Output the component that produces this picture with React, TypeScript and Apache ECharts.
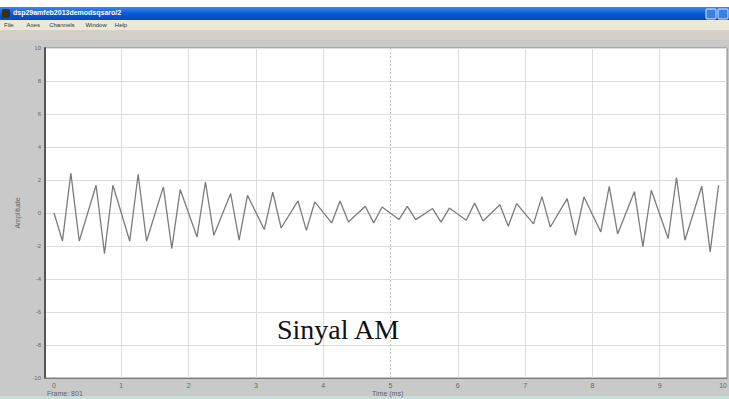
import React, { useEffect, useRef } from "react";
import * as echarts from "echarts";

const timeMs = [
  0, 0.125, 0.25, 0.375, 0.625, 0.75, 0.875, 1.125, 1.25, 1.375,
  1.625, 1.75, 1.875, 2.125, 2.25, 2.375, 2.625, 2.75, 2.875, 3.125,
  3.25, 3.375, 3.625, 3.75, 3.875, 4.125, 4.25, 4.375, 4.625, 4.75,
  4.875, 5.125, 5.25, 5.375, 5.625, 5.75, 5.875, 6.125, 6.25, 6.375,
  6.625, 6.75, 6.875, 7.125, 7.25, 7.375, 7.625, 7.75, 7.875, 8.125,
  8.25, 8.375, 8.625, 8.75, 8.875, 9.125, 9.25, 9.375, 9.625, 9.75,
  9.875,
];
const amplitude = [
  0, -1.7, 2.42, -1.7, 1.68, -2.46, 1.68, -1.7, 2.35, -1.7,
  1.58, -2.16, 1.42, -1.45, 1.88, -1.35, 1.18, -1.65, 1.07, -1.0,
  1.27, -0.91, 0.73, -1.05, 0.67, -0.6, 0.73, -0.55, 0.41, -0.6,
  0.36, -0.4, 0.4, -0.4, 0.27, -0.55, 0.3, -0.44, 0.6, -0.48,
  0.5, -0.8, 0.57, -0.66, 0.99, -0.85, 0.87, -1.35, 0.97, -1.15,
  1.62, -1.27, 1.3, -2.04, 1.38, -1.55, 2.15, -1.65, 1.62, -2.36,
  1.68,
];
const xTicks = [0, 1, 2, 3, 4, 5, 6, 7, 8, 9, 10];
const xGridLines = [1, 2, 3, 4, 6, 7, 8, 9];
const xCenterLine = [5];
const windowTitle = "dsp29amfeb2013demodsqsaro/2";
const menuItems = ["File", "Axes", "Channels", "Window", "Help"];
const frameText = "Frame: 801";
const xName = "Time (ms)";
const yName = "Amplitude";
const annotation = "Sinyal AM";

export default function App() {
  const ref = useRef<HTMLDivElement>(null);
  useEffect(() => {
    if (!ref.current) return;
    const chart = echarts.init(ref.current, null, { renderer: "svg" });
    const data = timeMs.map((t, i) => [t, amplitude[i]]);
    let mx = 4;
    const menuTexts = menuItems.map((m) => {
      const el = {
        type: "text",
        x: mx,
        y: 22,
        style: { text: m, fontSize: 6, fill: "#333", fontFamily: "Liberation Sans" },
        silent: true,
      };
      mx += m.length * 3.4 + 9;
      return el;
    });
    chart.setOption({
      animation: false,
      backgroundColor: "#c9c9c9",
      grid: {
        left: 45,
        top: 48,
        right: 2,
        bottom: 21,
        containLabel: false,
        outerBoundsMode: "none",
        show: true,
        backgroundColor: "#ffffff",
        borderColor: "#8a8a8a",
        borderWidth: 1,
      },
      xAxis: {
        type: "value",
        min: -0.134,
        max: 10,
        axisLine: { show: true, onZero: false, lineStyle: { color: "#7a7a7a", width: 1 } },
        axisTick: { show: false },
        splitLine: { show: false },
        axisLabel: {
          customValues: xTicks,
          alignMaxLabel: "right",
          fontSize: 7,
          color: "#666",
          margin: 4,
          fontFamily: "Liberation Sans",
        },
      },
      yAxis: {
        type: "value",
        min: -10,
        max: 10,
        interval: 2,
        name: yName,
        nameLocation: "middle",
        nameGap: 19,
        nameRotate: 90,
        nameTextStyle: { fontSize: 7, color: "#666", fontFamily: "Liberation Sans" },
        axisLine: { show: true, onZero: false, lineStyle: { color: "#555", width: 2 } },
        axisTick: { show: false },
        splitLine: { show: true, lineStyle: { color: "#dedede", width: 1 } },
        axisLabel: { fontSize: 6, color: "#666", margin: 4, fontFamily: "Liberation Sans" },
      },
      series: [
        {
          type: "line",
          data,
          showSymbol: false,
          symbol: "none",
          lineStyle: { color: "#7c7c7c", width: 1.3 },
          z: 5,
          markLine: {
            silent: true,
            symbol: "none",
            label: { show: false },
            data: [
              ...xGridLines.map((v) => ({
                xAxis: v,
                lineStyle: { color: "#dedede", width: 1, type: "solid" },
              })),
              ...xCenterLine.map((v) => ({
                xAxis: v,
                lineStyle: { color: "#c4c4c4", width: 1, type: [2, 2] },
              })),
            ],
          },
        },
      ],
      graphic: [
        { type: "rect", shape: { x: 0, y: 0, width: 729, height: 7 }, style: { fill: "#ffffff" }, silent: true },
        {
          type: "rect",
          shape: { x: 0, y: 7, width: 729, height: 13 },
          style: {
            fill: new echarts.graphic.LinearGradient(0, 0, 0, 1, [
              { offset: 0, color: "#3a88f2" },
              { offset: 0.5, color: "#0a5ad8" },
              { offset: 1, color: "#0848b8" },
            ]),
          },
          silent: true,
        },
        { type: "rect", shape: { x: 2, y: 9, width: 8, height: 9, r: 2 }, style: { fill: "#3a3020" }, silent: true },
        {
          type: "text",
          x: 13,
          y: 9,
          style: { text: windowTitle, fontSize: 7, fontWeight: "bold", fill: "#ffffff", fontFamily: "Liberation Sans" },
          silent: true,
        },
        { type: "rect", shape: { x: 706, y: 9, width: 10, height: 10, r: 1 }, style: { fill: "#3c7ee8", stroke: "#dfe8ff", lineWidth: 1 }, silent: true },
        { type: "rect", shape: { x: 718, y: 9, width: 10, height: 10, r: 1 }, style: { fill: "#3c7ee8", stroke: "#dfe8ff", lineWidth: 1 }, silent: true },
        { type: "rect", shape: { x: 0, y: 20, width: 729, height: 10 }, style: { fill: "#ece9d8" }, silent: true },
        ...menuTexts,
        { type: "rect", shape: { x: 0, y: 30, width: 729, height: 10 }, style: { fill: "#d4d0c8" }, silent: true },
        { type: "rect", shape: { x: 0, y: 396, width: 729, height: 3 }, style: { fill: "#c4e0d6" }, silent: true },
        {
          type: "text",
          x: 47,
          y: 390,
          style: { text: frameText, fontSize: 7, fill: "#666", fontFamily: "Liberation Sans" },
          silent: true,
        },
        {
          type: "text",
          x: 372,
          y: 390,
          style: { text: xName, fontSize: 7, fill: "#666", fontFamily: "Liberation Sans" },
          silent: true,
        },
        {
          type: "text",
          x: 277,
          y: 315,
          style: { text: annotation, fontSize: 28, fill: "#111", fontFamily: "Liberation Serif" },
          silent: true,
          z: 10,
        },
      ],
    });
    return () => chart.dispose();
  }, []);
  return (
    <div
      ref={ref}
      style={{ position: "fixed", left: 0, top: 0, width: 729, height: 399 }}
    />
  );
}
